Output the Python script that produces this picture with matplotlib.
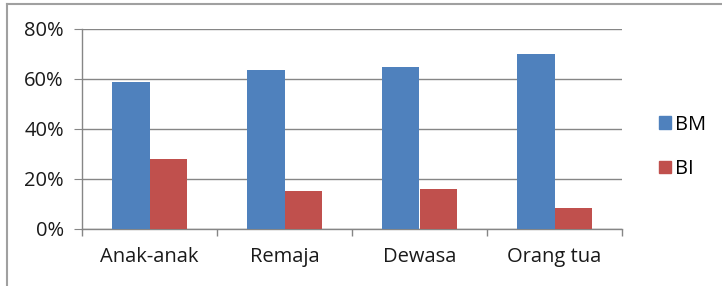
import matplotlib.pyplot as plt
import numpy as np
from matplotlib.lines import Line2D
from matplotlib.patches import Patch
from matplotlib.ticker import FuncFormatter

categories = ["Anak-anak", "Remaja", "Dewasa", "Orang tua"]
bm_values = [58.7, 63.6, 64.9, 70.0]
bi_values = [27.9, 15.3, 16.0, 8.4]
series_names = ["BM", "BI"]

plt.rcParams['font.family'] = ['Open Sans', 'DejaVu Sans']

fig = plt.figure(figsize=(7.22, 2.86), dpi=100)
ax = fig.add_axes([82 / 722, 1 - 229 / 286, 540 / 722, 200 / 286])

x = np.arange(len(categories))
w = 0.28
ax.bar(x - w / 2, bm_values, w, color='#4F81BD', zorder=3)
ax.bar(x + w / 2, bi_values, w, color='#C0504D', zorder=3)

ax.set_xlim(-0.5, len(categories) - 0.5)
ax.set_ylim(0, 80)
ax.set_yticks([0, 20, 40, 60, 80])
ax.yaxis.set_major_formatter(FuncFormatter(lambda v, p: f"{int(v)}%"))
ax.grid(axis='y', color='#868686', linewidth=1.0, zorder=0)

ax.set_xticks(x)
ax.set_xticklabels(categories)
ax.set_xticks(np.arange(-0.5, len(categories)), minor=True)
ax.tick_params(axis='x', which='major', length=0, labelsize=14.5, pad=13, colors='#1a1a1a')
ax.tick_params(axis='x', which='minor', length=5, color='#868686', width=1)
ax.tick_params(axis='y', length=6, color='#868686', labelsize=14.5, pad=7, colors='#1a1a1a')
ax.tick_params(axis='y', color='#868686')

for s in ['top', 'right']:
    ax.spines[s].set_visible(False)
for s in ['left', 'bottom']:
    ax.spines[s].set_color('#868686')
    ax.spines[s].set_linewidth(1.0)

handles = [Patch(color='#4F81BD'), Patch(color='#C0504D')]
fig.legend(handles, series_names, loc='center left', bbox_to_anchor=(659 / 722, 1 - 147 / 286),
           frameon=False, fontsize=14.5, handlelength=0.6, handleheight=0.6,
           handletextpad=0.2, labelspacing=1.2, borderpad=0, borderaxespad=0)

# outer chart frame (left and top edges)
fig.add_artist(Line2D([7 / 722, 7 / 722], [0, 1 - 4 / 286], color='#A0A0A0', linewidth=1.5))
fig.add_artist(Line2D([7 / 722, 1], [1 - 4 / 286, 1 - 4 / 286], color='#A0A0A0', linewidth=1.5))

fig.savefig("out.png", dpi=100)
